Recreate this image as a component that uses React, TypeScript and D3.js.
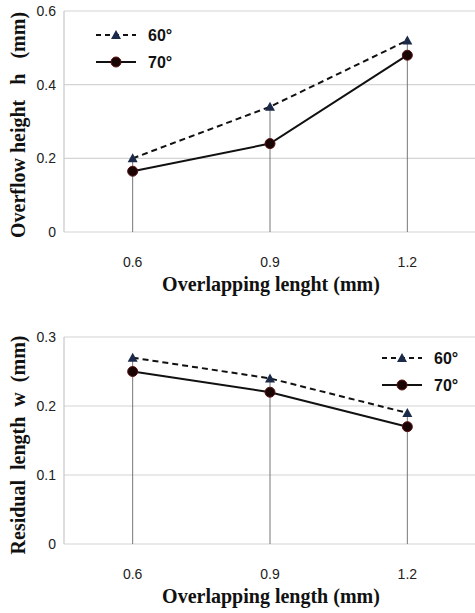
import React from "react";
import * as d3 from "d3";

// overlapping lengths (mm)
const categories = ["0.6", "0.9", "1.2"];

// top panel: overflow height h (mm)
const overflow60 = [0.2, 0.34, 0.52];
const overflow70 = [0.165, 0.24, 0.48];
const overflowTicks = [0, 0.2, 0.4, 0.6];

// bottom panel: residual length w (mm)
const residual60 = [0.27, 0.24, 0.19];
const residual70 = [0.25, 0.22, 0.17];
const residualTicks = [0, 0.1, 0.2, 0.3];

const seriesNames = ["60°", "70°"];

type PanelProps = {
  top: number;
  bottom: number;
  yMax: number;
  ticks: number[];
  s60: number[];
  s70: number[];
  yTitle: string;
  xTitle: string;
  legendX: number;
  legendY: number;
  yTitleCenter: number;
};

const serif = "'Liberation Serif', 'Times New Roman', serif";
const sans = "'Liberation Sans', Arial, sans-serif";

function Triangle({ x, y }: { x: number; y: number }) {
  const s = 5;
  return (
    <path
      d={`M${x},${y - s} L${x + s},${y + s * 0.8} L${x - s},${y + s * 0.8} Z`}
      fill="#1c2a4a"
    />
  );
}

function Dot({ x, y }: { x: number; y: number }) {
  return <circle cx={x} cy={y} r={5} fill="#1a0505" stroke="#5a1010" strokeWidth={1} />;
}

function Panel(p: PanelProps) {
  const x = d3.scalePoint<string>().domain(categories).range([64, 476]).padding(0.5);
  const y = d3.scaleLinear().domain([0, p.yMax]).range([p.bottom, p.top]);

  const line = d3
    .line<number>()
    .x((_, i) => x(categories[i])!)
    .y((d) => y(d));

  return (
    <g>
      {p.ticks.map((t) => (
        <g key={t}>
          <line x1={64} x2={475} y1={y(t)} y2={y(t)} stroke="#d4d4d4" strokeWidth={1.2} />
          <text
            x={56}
            y={y(t) + 5}
            textAnchor="end"
            fontFamily={sans}
            fontSize={14}
            fill="#222"
          >
            {t === 0 ? "0" : String(t)}
          </text>
        </g>
      ))}
      <line x1={64} x2={64} y1={p.top} y2={p.bottom} stroke="#c8c8c8" strokeWidth={1.2} />

      {categories.map((c, i) => (
        <g key={c}>
          <line
            x1={x(c)}
            x2={x(c)}
            y1={p.bottom}
            y2={y(Math.max(p.s60[i], p.s70[i]))}
            stroke="#777"
            strokeWidth={1}
          />
          <text
            x={x(c)}
            y={p.bottom + 35}
            textAnchor="middle"
            fontFamily={sans}
            fontSize={14}
            fill="#222"
          >
            {c}
          </text>
        </g>
      ))}

      <path d={line(p.s60)!} fill="none" stroke="#111" strokeWidth={2} strokeDasharray="6,4" />
      <path d={line(p.s70)!} fill="none" stroke="#111" strokeWidth={2} />
      {p.s60.map((v, i) => (
        <Triangle key={"t" + i} x={x(categories[i])!} y={y(v)} />
      ))}
      {p.s70.map((v, i) => (
        <Dot key={"d" + i} x={x(categories[i])!} y={y(v)} />
      ))}

      {/* legend */}
      <line x1={p.legendX} x2={p.legendX + 40} y1={p.legendY} y2={p.legendY} stroke="#111" strokeWidth={2} strokeDasharray="5,4" />
      <Triangle x={p.legendX + 20} y={p.legendY} />
      <text x={p.legendX + 52} y={p.legendY + 6} fontFamily={sans} fontWeight="bold" fontSize={16} fill="#111">
        {seriesNames[0]}
      </text>
      <line x1={p.legendX} x2={p.legendX + 40} y1={p.legendY + 27} y2={p.legendY + 27} stroke="#111" strokeWidth={2} />
      <Dot x={p.legendX + 20} y={p.legendY + 27} />
      <text x={p.legendX + 52} y={p.legendY + 33} fontFamily={sans} fontWeight="bold" fontSize={16} fill="#111">
        {seriesNames[1]}
      </text>

      <text
        x={271}
        y={p.bottom + 59}
        textAnchor="middle"
        fontFamily={serif}
        fontWeight="bold"
        fontSize={20}
        fill="#111"
      >
        {p.xTitle}
      </text>
      <text
        transform={`translate(25,${p.yTitleCenter}) rotate(-90)`}
        textAnchor="middle"
        fontFamily={serif}
        fontWeight="bold"
        fontSize={20}
        fill="#111"
        style={{ whiteSpace: "pre" }}
      >
        {p.yTitle}
      </text>
    </g>
  );
}

export default function App() {
  return (
    <svg
      width={475}
      height={613}
      style={{ position: "absolute", left: 0, top: 0, background: "#fff" }}
    >
      <rect width={475} height={613} fill="#fff" />
      <Panel
        top={11}
        bottom={232}
        yMax={0.6}
        ticks={overflowTicks}
        s60={overflow60}
        s70={overflow70}
        yTitle="Overflow height   h   (mm)"
        xTitle="Overlapping lenght (mm)"
        legendX={96}
        legendY={35}
        yTitleCenter={125}
      />
      <Panel
        top={337}
        bottom={544}
        yMax={0.3}
        ticks={residualTicks}
        s60={residual60}
        s70={residual70}
        yTitle="Residual  length  w  (mm)"
        xTitle="Overlapping length (mm)"
        legendX={382}
        legendY={358}
        yTitleCenter={445}
      />
    </svg>
  );
}
